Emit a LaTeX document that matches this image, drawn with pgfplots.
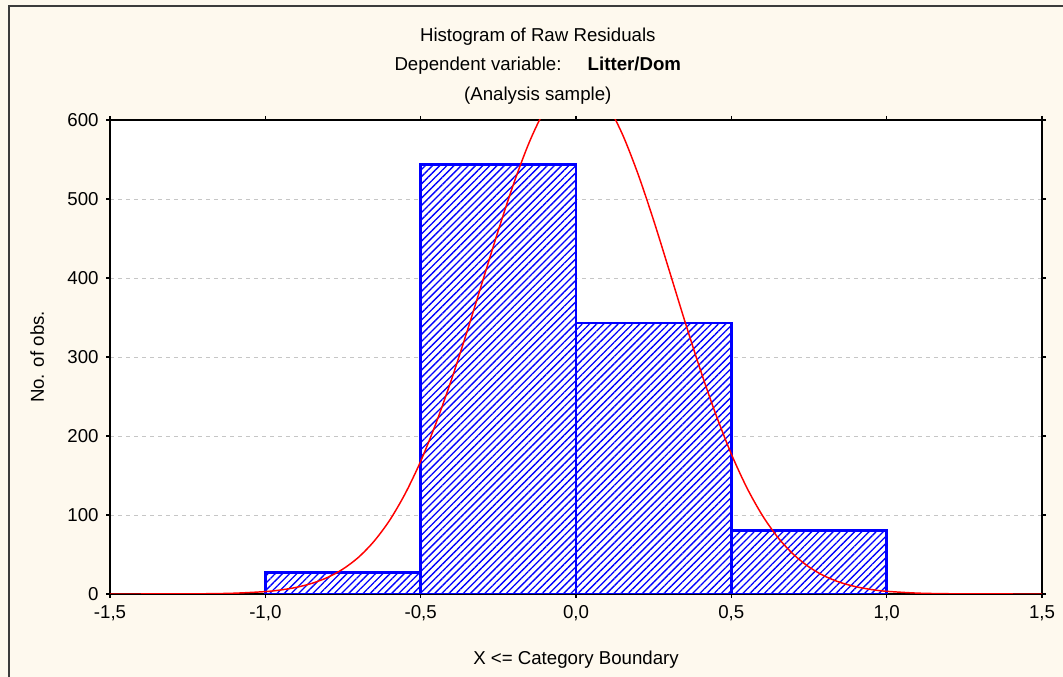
\documentclass[border=0pt]{standalone}
\usepackage{pgfplots}
\pgfplotsset{compat=1.18}
\usepackage{fontspec}
\setmainfont{Liberation Sans}
\usetikzlibrary{patterns.meta}
\definecolor{bgcream}{RGB}{254,249,238}
\definecolor{framegray}{RGB}{60,60,60}
\begin{document}
\begin{tikzpicture}[x=0.75pt,y=0.75pt]
\fill[bgcream] (0,0) rectangle (1063,677);
\draw[line width=1.1pt, framegray] (9,0) -- (9,671) -- (1063,671);
\begin{axis}[
  at={(82.5pt,62.25pt)}, anchor=south west,
  scale only axis, width=699pt, height=355.5pt,
  xmin=-1.5, xmax=1.5, ymin=0, ymax=600,
  axis background/.style={fill=white},
  axis line style={line width=1.3pt, black},
  xtick={-1.5,-1,-0.5,0,0.5,1,1.5},
  xticklabels={{-1,5},{-1,0},{-0,5},{0,0},{0,5},{1,0},{1,5}},
  ytick={0,100,200,300,400,500,600},
  yticklabels={0,100,200,300,400,500,600},
  ymajorgrids,
  major grid style={dashed, gray!45, line width=0.6pt},
  tick style={black, line width=0.9pt}, major tick length=3pt, tick align=outside,
  ticklabel style={font=\fontsize{14}{16}\selectfont},
  xticklabel style={yshift=-2pt},
  yticklabel style={xshift=-2pt},
  xlabel={X <= Category Boundary}, ylabel={No. of obs.},
  every axis x label/.style={at={(0.5,-0.139)}, anchor=center, font=\fontsize{14}{16}\selectfont},
  every axis y label/.style={at={(-0.078,0.5)}, rotate=90, anchor=center, font=\fontsize{14}{16}\selectfont},
  title={Histogram of Raw Residuals\\Dependent variable:\hspace{1.4em}\textbf{Litter/Dom}\\(Analysis sample)},
  every axis title/.style={at={(0.459,1.114)}, anchor=center, align=center, font=\fontsize{14}{22}\selectfont},
  clip=true,
]
\addplot[ybar interval, draw=blue, line width=2pt, fill=white,
  postaction={pattern={Lines[angle=45,distance=3.8pt,line width=1pt]}, pattern color=blue}]
  coordinates {(-1,27) (-0.5,544) (0,343) (0.5,80) (1,80)};
\addplot[red, line width=1.1pt, smooth] coordinates {
(-1.5,0.004) (-1.4,0.018) (-1.3,0.078) (-1.2,0.29) (-1.1,1.0) (-1.0,3.06)
(-0.95,5.15) (-0.9,8.4) (-0.85,13.5) (-0.8,20.9) (-0.75,31.6) (-0.7,46.5)
(-0.65,66.8) (-0.6,93.2) (-0.55,126.9) (-0.5,168.0) (-0.45,216.8) (-0.4,272.3)
(-0.35,333.1) (-0.3,396.8) (-0.25,460.3) (-0.2,520.1) (-0.15,572.2) (-0.1,613.1)
(-0.05,639.7) (0,649.9) (0.05,643.0) (0.1,619.6) (0.15,581.4) (0.2,531.2)
(0.25,472.8) (0.3,409.6) (0.35,345.7) (0.4,284.1) (0.45,227.4) (0.5,177.2)
(0.55,134.5) (0.6,99.4) (0.65,71.5) (0.7,50.1) (0.75,34.2) (0.8,22.7)
(0.85,14.7) (0.9,9.3) (0.95,5.7) (1.0,3.4) (1.1,1.1) (1.2,0.33) (1.3,0.09)
(1.4,0.02) (1.5,0.005)};
\end{axis}
\pgfresetboundingbox
\useasboundingbox (0,0) rectangle (1063,677);
\end{tikzpicture}
\end{document}
